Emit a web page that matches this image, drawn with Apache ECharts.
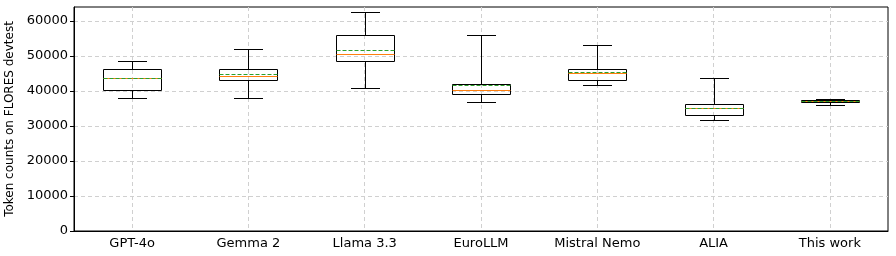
<!DOCTYPE html>
<html>
<head>
<meta charset="utf-8">
<script src="https://cdn.jsdelivr.net/npm/echarts@6/dist/echarts.min.js"></script>
<style>
  html, body { margin: 0; padding: 0; background: #fff; }
  #main { width: 896px; height: 256px; }
</style>
</head>
<body>
<div id="main"></div>
<script>
// models on the x axis
const models = ['GPT-4o', 'Gemma 2', 'Llama 3.3', 'EuroLLM', 'Mistral Nemo', 'ALIA', 'This work'];

// box stats (token counts)
const whiskerLow  = [38000, 38000, 40900, 36800, 41700, 31600, 36000];
const q1          = [40300, 43100, 48500, 39100, 43100, 33100, 36900];
const median      = [43600, 44400, 50700, 40200, 45100, 35200, 37100];
const q3          = [46200, 46200, 56000, 41900, 46200, 36200, 37500];
const whiskerHigh = [48700, 52100, 62500, 56000, 53100, 43800, 37700];
const mean        = [43600, 44900, 51600, 41600, 45300, 35100, 37150];

const yTicks = [0, 10000, 20000, 30000, 40000, 50000, 60000];

const boxData = models.map((m, i) => [i, whiskerLow[i], q1[i], median[i], q3[i], whiskerHigh[i], mean[i]]);

var chart = echarts.init(document.getElementById('main'), null, { renderer: 'canvas' });

const font = 'DejaVu Sans';

// snap to pixel centre so 1px lines stay crisp
const px = (v) => Math.round(v) + 0.5;

function renderBox(params, api) {
  const i = api.value(0);
  const band = api.size([1, 0])[0];
  const bw = Math.round(band * 0.5);   // box width
  const cw = Math.round(bw * 0.5);     // cap width
  const cx = px(api.coord([i, 0])[0]);
  const y = (k) => px(api.coord([i, api.value(k)])[1]);
  const yLow = y(1), yQ1 = y(2), yMed = y(3), yQ3 = y(4), yHigh = y(5), yMean = y(6);
  const l = cx - bw / 2, r = cx + bw / 2;
  const black = { stroke: '#000', lineWidth: 1, fill: null };
  return {
    type: 'group',
    children: [
      { type: 'line', shape: { x1: cx, y1: yQ1, x2: cx, y2: yLow }, style: black },
      { type: 'line', shape: { x1: cx, y1: yQ3, x2: cx, y2: yHigh }, style: black },
      { type: 'line', shape: { x1: cx - cw / 2, y1: yLow, x2: cx + cw / 2, y2: yLow }, style: black },
      { type: 'line', shape: { x1: cx - cw / 2, y1: yHigh, x2: cx + cw / 2, y2: yHigh }, style: black },
      { type: 'rect', shape: { x: l, y: yQ3, width: bw, height: yQ1 - yQ3 }, style: { stroke: '#000', lineWidth: 1, fill: 'none' } },
      { type: 'line', shape: { x1: l, y1: yMed, x2: r, y2: yMed }, style: { stroke: '#ff7f0e', lineWidth: 1 } },
      { type: 'line', shape: { x1: l, y1: yMean, x2: r, y2: yMean }, style: { stroke: '#2ca02c', lineWidth: 1, lineDash: [4, 2] } }
    ]
  };
}

var option = {
  animation: false,
  grid: {
    left: 74, right: 8, top: 7, bottom: 25,
    outerBoundsMode: 'none',
    containLabel: false,
    show: true, borderColor: '#000', borderWidth: 1, backgroundColor: 'transparent'
  },
  xAxis: {
    type: 'category',
    data: models,
    boundaryGap: true,
    axisLine: { lineStyle: { color: '#000', width: 1 } },
    axisTick: { alignWithLabel: true, length: 4, lineStyle: { color: '#000' } },
    axisLabel: { color: '#000', fontFamily: font, fontSize: 13, margin: 6 },
    splitLine: { show: true, alignWithLabel: true, lineStyle: { color: '#d0d0d0', type: [4, 3], width: 1 } }
  },
  yAxis: {
    type: 'value',
    min: 0,
    max: 64000,
    interval: 10000,
    name: 'Token counts on FLORES devtest',
    nameLocation: 'middle',
    nameGap: 53,
    nameTextStyle: { color: '#000', fontFamily: font, fontSize: 12 },
    axisLine: { show: true, lineStyle: { color: '#000', width: 1 } },
    axisTick: { show: true, length: 4, lineStyle: { color: '#000' }, customValues: yTicks },
    axisLabel: { color: '#000', fontFamily: font, fontSize: 13, margin: 6, customValues: yTicks, formatter: (v) => String(v) },
    splitLine: { show: true, lineStyle: { color: '#d0d0d0', type: [4, 3], width: 1 } }
  },
  series: [{
    type: 'custom',
    renderItem: renderBox,
    encode: { x: 0, y: [1, 2, 3, 4, 5, 6] },
    data: boxData,
    clip: false
  }]
};

chart.setOption(option);
</script>
</body>
</html>
